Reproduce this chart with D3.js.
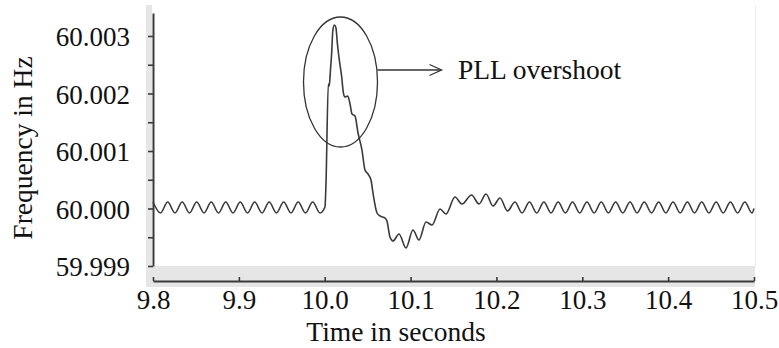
<!DOCTYPE html>
<html>
<head>
<meta charset="utf-8">
<script src="https://cdn.jsdelivr.net/npm/d3@7"></script>
<style>
  html, body { margin: 0; padding: 0; background: #fff; }
  svg { display: block; }
  svg text { font-family: "Liberation Serif", "Times New Roman", serif !important; fill: #111; }
</style>
</head>
<body>
<svg id="chart" width="779" height="348"></svg>
<script>
// Grid frequency around a PLL disturbance at t = 10.0 s
const timeSeconds = [
  9.8000, 9.8087, 9.8171, 9.8256, 9.8340, 9.8425, 9.8509, 9.8594, 9.8678, 9.8763,
  9.8847, 9.8932, 9.9016, 9.9101, 9.9184, 9.9270, 9.9353, 9.9438, 9.9522, 9.9607,
  9.9691, 9.9776, 9.9860, 9.9945,
  10.0003, 10.0015, 10.0042, 10.0053, 10.0067, 10.0081, 10.0094, 10.0112, 10.0131, 10.0147,
  10.0170, 10.0198, 10.0216, 10.0236, 10.0268, 10.0295, 10.0318, 10.0353, 10.0388, 10.0434,
  10.0469, 10.0504, 10.0539, 10.0562, 10.0609, 10.0644, 10.0702, 10.0725, 10.0760, 10.0795,
  10.0865, 10.0947, 10.1028, 10.1098, 10.1180, 10.1250, 10.1343, 10.1413, 10.1517, 10.1599,
  10.1710, 10.1797, 10.1879, 10.1960, 10.2042, 10.2129, 10.2216, 10.2298,
  10.2385, 10.2469, 10.2553, 10.2636, 10.2719, 10.2803, 10.2887, 10.2970, 10.3054, 10.3138,
  10.3221, 10.3304, 10.3388, 10.3472, 10.3556, 10.3638, 10.3722, 10.3806, 10.3890, 10.3973,
  10.4057, 10.4140, 10.4224, 10.4307, 10.4391, 10.4475, 10.4559, 10.4641, 10.4725, 10.4809,
  10.4893, 10.4977, 10.5000
];

const frequencyHz = [
  60.000113, 59.999922, 60.000113, 59.999922, 60.000113, 59.999922, 60.000113, 59.999922, 60.000113, 59.999922,
  60.000113, 59.999922, 60.000113, 59.999922, 60.000113, 59.999922, 60.000113, 59.999922, 60.000113, 59.999922,
  60.000113, 59.999922, 60.000113, 59.999922,
  60.000026, 60.000443, 60.002165, 60.002130, 60.002409, 60.002704, 60.003087, 60.003191, 60.003139, 60.002878,
  60.002583, 60.002287, 60.002026, 60.001939, 60.001957, 60.001817, 60.001643, 60.001609, 60.001313, 60.001017,
  60.000670, 60.000600, 60.000496, 60.000270, 59.999922, 59.999870, 59.999835, 59.999783, 59.999504, 59.999435,
  59.999557, 59.999313, 59.999626, 59.999452, 59.999765, 59.999713, 59.999991, 59.999904, 60.000200, 60.000078,
  60.000235, 60.000078, 60.000252, 60.000043, 60.000183, 59.999957, 60.000113, 59.999922,
  60.000113, 59.999922, 60.000113, 59.999922, 60.000113, 59.999922, 60.000113, 59.999922, 60.000113, 59.999922,
  60.000113, 59.999922, 60.000113, 59.999922, 60.000113, 59.999922, 60.000113, 59.999922, 60.000113, 59.999922,
  60.000113, 59.999922, 60.000113, 59.999922, 60.000113, 59.999922, 60.000113, 59.999922, 60.000113, 59.999922,
  60.000113, 59.999922, 60.000000
];

const xTickValues = [9.8, 9.9, 10.0, 10.1, 10.2, 10.3, 10.4, 10.5];
const yTickValues = [59.999, 59.9995, 60.000, 60.0005, 60.001, 60.0015, 60.002, 60.0025, 60.003];
const yTickLabels = ["59.999", "", "60.000", "", "60.001", "", "60.002", "", "60.003"];

const xTitle = "Time in seconds";
const yTitle = "Frequency in Hz";
const noteText = "PLL overshoot";

const serif = "'Liberation Serif', 'Times New Roman', serif";

const svg = d3.select("#chart");

const plot = { left: 153, right: 754, top: 13, bottom: 266, axisY: 281 };

const x = d3.scaleLinear().domain([9.8, 10.5]).range([plot.left, plot.right]);
const y = d3.scaleLinear().domain([59.999, 60.0034]).range([plot.bottom, plot.top]);

// light frame panels
svg.append("rect").attr("x", 146).attr("y", 5).attr("width", 6).attr("height", 282).attr("fill", "#e6e6e6");
svg.append("rect").attr("x", 146).attr("y", 266).attr("width", 609).attr("height", 21).attr("fill", "#e6e6e6");
svg.append("line").attr("x1", 755.5).attr("x2", 755.5).attr("y1", 5).attr("y2", 266)
  .attr("stroke", "#ededed").attr("stroke-width", 1);

// y axis
const yAxis = d3.axisLeft(y)
  .tickValues(yTickValues)
  .tickSize(5)
  .tickSizeOuter(0)
  .tickPadding(18)
  .tickFormat((d, i) => yTickLabels[i]);

const gy = svg.append("g").attr("transform", `translate(${plot.left},0)`).call(yAxis);
gy.attr("font-family", null).attr("font-size", null);
gy.select(".domain").attr("stroke", "#3a3a3a").attr("stroke-width", 2);
gy.selectAll(".tick line").attr("stroke", "#3a3a3a").attr("stroke-width", 1.6);
gy.selectAll(".tick text")
  .style("font-family", serif)
  .style("font-size", "27px")
  .attr("fill", "#111")
  .attr("dy", "0.36em");

// x axis
const xAxis = d3.axisBottom(x)
  .tickValues(xTickValues)
  .tickSize(-4)
  .tickSizeOuter(0)
  .tickPadding(8.5)
  .tickFormat(d3.format(".1f"));

const gx = svg.append("g").attr("transform", `translate(0,${plot.axisY})`).call(xAxis);
gx.attr("font-family", null).attr("font-size", null);
gx.select(".domain").attr("stroke", "#3a3a3a").attr("stroke-width", 2);
gx.selectAll(".tick line").attr("stroke", "#3a3a3a").attr("stroke-width", 1.6);
gx.selectAll(".tick text")
  .style("font-family", serif)
  .style("font-size", "27px")
  .attr("fill", "#111");

// frequency trace
const series = timeSeconds.map((t, i) => ({ t, f: frequencyHz[i] }));
const line = d3.line()
  .x(d => x(d.t))
  .y(d => y(d.f))
  .curve(d3.curveMonotoneX);

svg.append("path")
  .datum(series)
  .attr("fill", "none")
  .attr("stroke", "#3a3a3a")
  .attr("stroke-width", 1.6)
  .attr("stroke-linejoin", "round")
  .attr("d", line);

// annotation: ellipse around the spike, arrow and label
svg.append("ellipse")
  .attr("cx", 340.5).attr("cy", 82).attr("rx", 37).attr("ry", 65)
  .attr("fill", "none").attr("stroke", "#333").attr("stroke-width", 1.3);

svg.append("line")
  .attr("x1", 377.5).attr("x2", 441.5).attr("y1", 70).attr("y2", 70)
  .attr("stroke", "#333").attr("stroke-width", 1.3);
svg.append("polyline")
  .attr("points", "429.5,64.5 441.5,70 429.5,75.5")
  .attr("fill", "none").attr("stroke", "#333").attr("stroke-width", 1.3);

svg.append("text")
  .attr("x", 458).attr("y", 78.5)
  .style("font-family", serif)
  .style("font-size", "27.5px")
  .text(noteText);

// axis titles
svg.append("text")
  .attr("x", 396).attr("y", 341)
  .attr("text-anchor", "middle")
  .style("font-family", serif)
  .style("font-size", "27.5px")
  .text(xTitle);

svg.append("text")
  .attr("transform", "translate(32,148) rotate(-90)")
  .attr("text-anchor", "middle")
  .style("font-family", serif)
  .style("font-size", "27.5px")
  .text(yTitle);
</script>
</body>
</html>
